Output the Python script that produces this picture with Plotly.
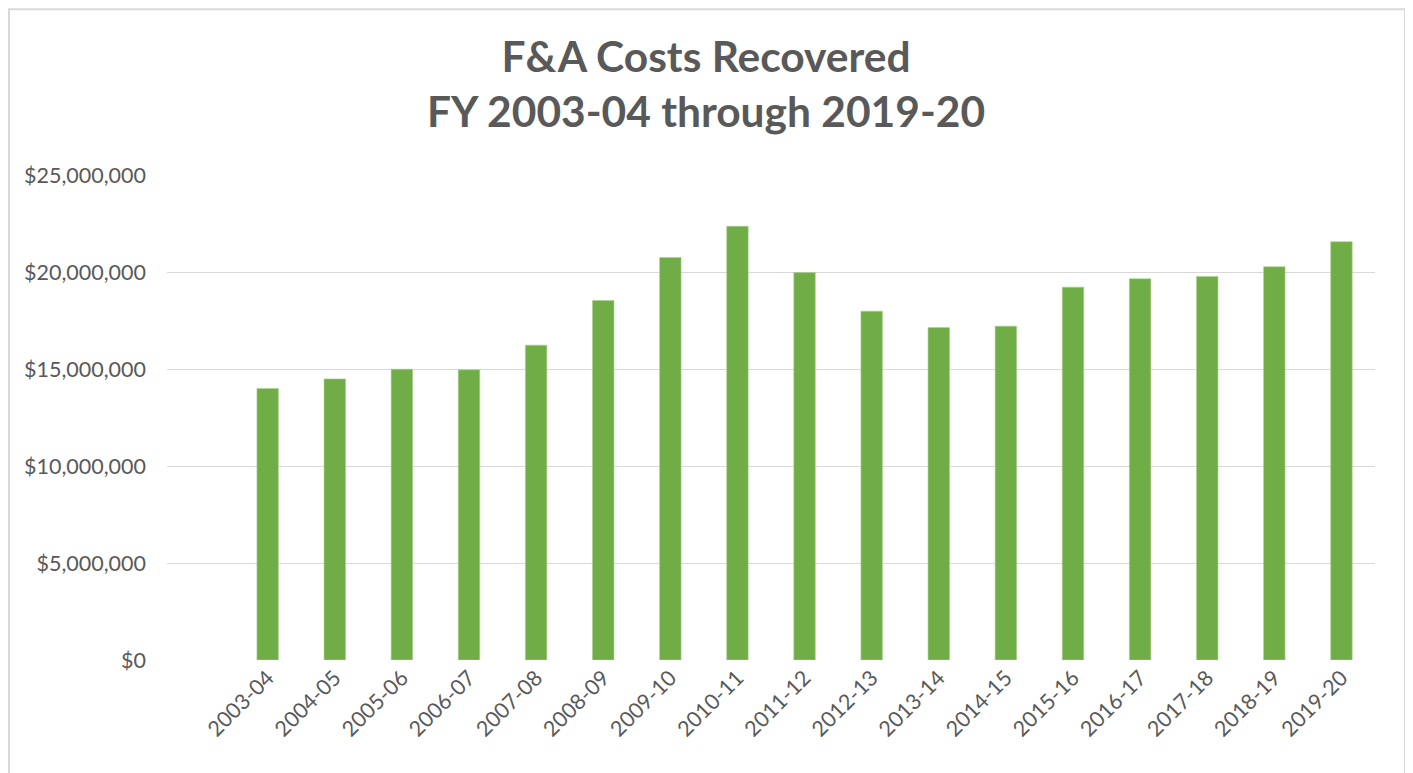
import plotly.graph_objects as go

years = ["2003-04", "2004-05", "2005-06", "2006-07", "2007-08", "2008-09",
         "2009-10", "2010-11", "2011-12", "2012-13", "2013-14", "2014-15",
         "2015-16", "2016-17", "2017-18", "2018-19", "2019-20"]
recovered = [14.0e6, 14.49e6, 14.99e6, 14.96e6, 16.23e6, 18.53e6,
             20.75e6, 22.36e6, 19.97e6, 17.98e6, 17.14e6, 17.21e6,
             19.22e6, 19.65e6, 19.77e6, 20.27e6, 21.56e6]
y_ticks = [0, 5e6, 10e6, 15e6, 20e6, 25e6]
y_tick_text = ["$0", "$5,000,000", "$10,000,000", "$15,000,000", "$20,000,000", "$25,000,000"]

W, H = 1413, 773
OFF = 8  # page body margin
L, R, T, B = 167 - OFF, 38 + OFF, 175 - OFF, 112.5 + OFF
pw, ph = W - L - R, H - T - B

fig = go.Figure()
fig.add_trace(go.Bar(
    x=years, y=recovered, width=0.32,
    marker=dict(color="#70AD47", line=dict(color="#A9D08E", width=0.6)),
))

def fx(px):  # figure pixel -> paper x
    return (px - L) / pw

def fy(py):  # figure pixel -> paper y
    return (H - B - py) / ph

fig.update_layout(
    width=W, height=H,
    margin=dict(l=L, r=R, t=T, b=B),
    paper_bgcolor="white", plot_bgcolor="white",
    showlegend=False,
    title=dict(
        text="F&A Costs Recovered<br>FY 2003-04 through 2019-20",
        x=(706 - OFF) / W, xref="container", xanchor="center",
        y=1 - 64 / H, yref="container", yanchor="middle",
        font=dict(family="Lato", size=42.5, color="#595959", weight="bold"),
    ),
    xaxis=dict(
        type="category", range=[-1.5, 16.5],
        tickangle=-45, showgrid=False, showline=False, zeroline=False,
        tickfont=dict(family="Lato", size=21.5, color="#595959"),
        ticks="", fixedrange=True,
    ),
    yaxis=dict(
        range=[0, 25e6], tickvals=y_ticks, ticktext=y_tick_text,
        showgrid=True, gridcolor="#D9D9D9", gridwidth=1.3,
        zeroline=False, showline=False,
        tickfont=dict(family="Lato", size=21.5, color="#595959"),
        ticklabelstandoff=20,
    ),
    shapes=[dict(
        type="rect", xref="paper", yref="paper",
        x0=fx(1), x1=fx(1397),
        y0=fy(790), y1=fy(1),
        line=dict(color="#D9D9D9", width=2), fillcolor="rgba(0,0,0,0)",
        layer="below",
    )],
)

fig.write_html("out.html")
